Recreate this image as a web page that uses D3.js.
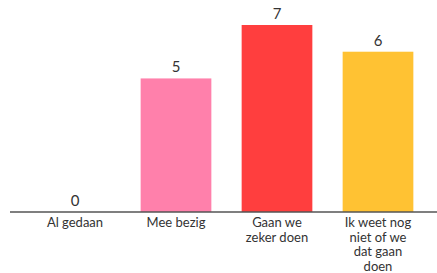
<!DOCTYPE html>
<html>
<head>
<meta charset="utf-8">
<script src="https://cdn.jsdelivr.net/npm/d3@7"></script>
<style>
  body { margin: 0; background: #fff; }
  svg { display: block; }
  text { font-family: Lato, "Open Sans", sans-serif; }
</style>
</head>
<body>
<div id="chart"></div>
<script>
// data
const categories = ["Al gedaan", "Mee bezig", "Gaan we zeker doen", "Ik weet nog niet of we dat gaan doen"];
const labelLines = [["Al gedaan"], ["Mee bezig"], ["Gaan we", "zeker doen"], ["Ik weet nog", "niet of we", "dat gaan", "doen"]];
const values = [0, 5, 7, 6];
const colors = ["#ff80ab", "#ff80ab", "#ff3e3e", "#ffc233"];

const width = 437, height = 273;
const baseY = 212;

const svg = d3.select('#chart').append('svg')
    .attr('width', width)
    .attr('height', height);

const x = d3.scaleBand()
    .domain(categories)
    .range([24.5, 428.5])
    .paddingInner(0.3)
    .paddingOuter(0.15);

const y = d3.scaleLinear()
    .domain([0, 7])
    .range([baseY, 25]);

// bars
svg.append('g').selectAll('rect')
    .data(categories)
    .enter().append('rect')
    .attr('x', d => x(d))
    .attr('width', x.bandwidth())
    .attr('y', (d, i) => y(values[i]))
    .attr('height', (d, i) => baseY - y(values[i]))
    .attr('fill', (d, i) => colors[i]);

// value labels
svg.append('g').selectAll('text')
    .data(categories)
    .enter().append('text')
    .attr('x', d => x(d) + x.bandwidth() / 2)
    .attr('y', (d, i) => y(values[i]) - 6)
    .attr('text-anchor', 'middle')
    .attr('font-size', 15)
    .attr('fill', '#333')
    .text((d, i) => values[i]);

// axis line
svg.append('line')
    .attr('x1', 10).attr('x2', width)
    .attr('y1', baseY).attr('y2', baseY)
    .attr('stroke', '#555')
    .attr('stroke-width', 1.5);

// category labels, one text per line
const lab = svg.append('g');
labelLines.forEach((lines, i) => {
    lines.forEach((line, j) => {
        lab.append('text')
            .attr('x', x(categories[i]) + x.bandwidth() / 2)
            .attr('y', 227 + j * 14.5)
            .attr('text-anchor', 'middle')
            .attr('font-size', 13)
            .attr('fill', '#333')
            .text(line);
    });
});
</script>
</body>
</html>
